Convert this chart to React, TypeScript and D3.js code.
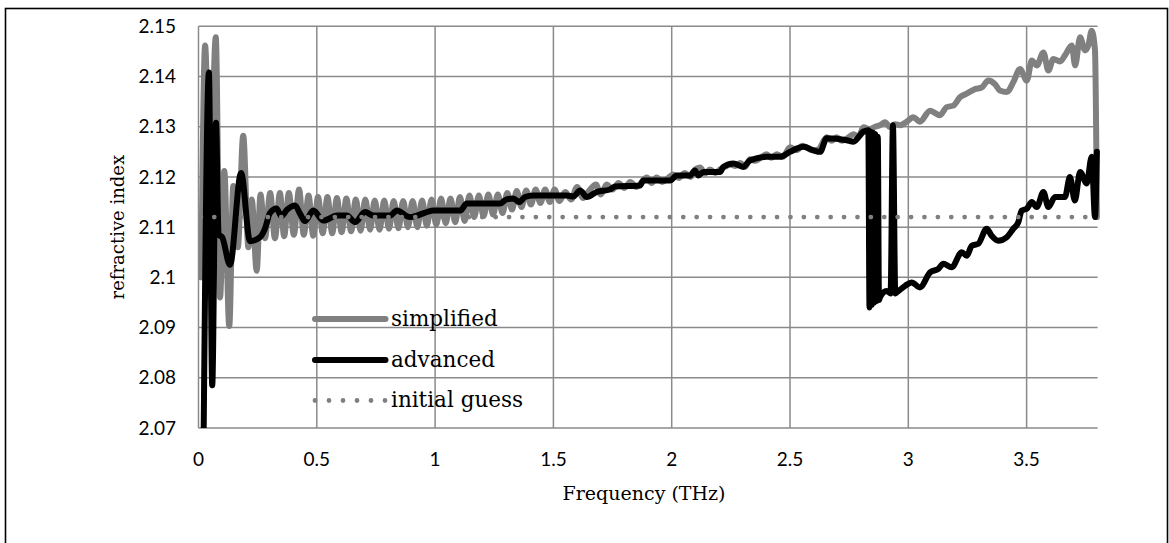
import React from "react";
import * as d3 from "d3";

const yTicks = [2.07, 2.08, 2.09, 2.1, 2.11, 2.12, 2.13, 2.14, 2.15];
const yTickLabels = ["2.07", "2.08", "2.09", "2.1", "2.11", "2.12", "2.13", "2.14", "2.15"];
const xTicks = [0, 0.5, 1, 1.5, 2, 2.5, 3, 3.5];
const xTickLabels = ["0", "0.5", "1", "1.5", "2", "2.5", "3", "3.5"];

const simplifiedFreq = [
  0.012, 0.028, 0.048, 0.073, 0.091, 0.109, 0.13, 0.147, 0.166, 0.189, 0.211, 0.225, 0.246, 0.262, 0.281, 0.303,
  0.323, 0.344, 0.362, 0.382, 0.403, 0.425, 0.445, 0.465, 0.485, 0.505, 0.525, 0.545, 0.565, 0.585, 0.605, 0.625,
  0.645, 0.665, 0.685, 0.705, 0.725, 0.745, 0.765, 0.785, 0.805, 0.825, 0.845, 0.865, 0.885, 0.905, 0.925, 0.945,
  0.965, 0.985, 1.005, 1.025, 1.045, 1.065, 1.085, 1.105, 1.125, 1.145, 1.165, 1.185, 1.205, 1.225, 1.245, 1.265,
  1.285, 1.305, 1.325, 1.345, 1.365, 1.385, 1.405, 1.425, 1.445, 1.465, 1.485, 1.505, 1.525, 1.55, 1.575, 1.6,
  1.625, 1.65, 1.68, 1.7, 1.725, 1.75, 1.775, 1.8, 1.825, 1.85, 1.895, 1.915, 1.936, 1.96, 1.985, 2.007,
  2.03, 2.055, 2.08, 2.1, 2.12, 2.14, 2.162, 2.185, 2.205, 2.225, 2.246, 2.27, 2.29, 2.31, 2.331, 2.355,
  2.38, 2.401, 2.42, 2.444, 2.47, 2.5, 2.53, 2.55, 2.57, 2.595, 2.62, 2.655, 2.675, 2.697, 2.72, 2.745,
  2.768, 2.79, 2.81, 2.835, 2.86, 2.88, 2.902, 2.923, 2.944, 2.965, 2.993, 3.021, 3.049, 3.092, 3.134, 3.162,
  3.19, 3.219, 3.247, 3.282, 3.31, 3.338, 3.366, 3.387, 3.416, 3.444, 3.472, 3.501, 3.522, 3.543, 3.571, 3.592,
  3.613, 3.641, 3.662, 3.691, 3.705, 3.726, 3.747, 3.761, 3.775, 3.789, 3.797,
];
const simplifiedN = [
  2.1, 2.1462, 2.115, 2.1478, 2.096, 2.1212, 2.0903, 2.1182, 2.106, 2.1282, 2.106, 2.1155, 2.1013, 2.1165, 2.1078, 2.1168,
  2.1078, 2.1168, 2.1082, 2.1168, 2.1085, 2.1175, 2.1085, 2.1163, 2.1083, 2.116, 2.1088, 2.116, 2.1088, 2.1158, 2.109, 2.1157,
  2.1092, 2.1155, 2.1093, 2.1155, 2.1095, 2.1153, 2.1095, 2.1153, 2.1097, 2.1152, 2.1098, 2.1152, 2.11, 2.1152, 2.11, 2.1153,
  2.1103, 2.1155, 2.1105, 2.1157, 2.1108, 2.1157, 2.111, 2.116, 2.1112, 2.1163, 2.112, 2.1163, 2.1122, 2.1165, 2.1125, 2.1165,
  2.1128, 2.1168, 2.1135, 2.1172, 2.114, 2.1173, 2.1145, 2.1175, 2.1148, 2.1175, 2.115, 2.1175, 2.1152, 2.117, 2.1155, 2.118,
  2.1158, 2.1172, 2.1185, 2.1165, 2.1185, 2.1175, 2.1188, 2.1178, 2.119, 2.118, 2.1199, 2.1188, 2.1199, 2.119, 2.1198, 2.1205,
  2.1198, 2.1208, 2.12, 2.1215, 2.1219, 2.1207, 2.1215, 2.1208, 2.1215, 2.122, 2.1225, 2.1222, 2.1228, 2.122, 2.1235, 2.1232,
  2.124, 2.1245, 2.1238, 2.1245, 2.124, 2.1259, 2.1253, 2.1262, 2.1259, 2.1253, 2.1255, 2.1279, 2.1272, 2.1279, 2.1272, 2.1278,
  2.1285, 2.128, 2.1299, 2.1295, 2.13, 2.1303, 2.1309, 2.1299, 2.1305, 2.1303, 2.131, 2.1319, 2.131, 2.1332, 2.1323, 2.1339,
  2.1342, 2.1359, 2.1366, 2.1375, 2.1378, 2.1392, 2.1385, 2.1372, 2.1369, 2.1389, 2.1415, 2.1392, 2.1432, 2.1422, 2.1448, 2.1412,
  2.1435, 2.143, 2.1442, 2.1462, 2.1422, 2.1478, 2.1452, 2.1462, 2.1491, 2.1452, 2.112,
];

const advancedFreq = [
  0.02, 0.044, 0.058, 0.074, 0.085, 0.1, 0.133, 0.18, 0.218, 0.26, 0.281, 0.302, 0.33, 0.35, 0.375, 0.408,
  0.429, 0.45, 0.485, 0.528, 0.585, 0.627, 0.662, 0.704, 0.74, 0.81, 0.838, 0.894, 0.922, 0.965, 0.993, 1.106,
  1.134, 1.275, 1.3, 1.331, 1.355, 1.38, 1.416, 1.557, 1.584, 1.613, 1.641, 1.683, 1.739, 1.76, 1.866, 1.88,
  1.993, 2.021, 2.078, 2.098, 2.113, 2.134, 2.204, 2.218, 2.261, 2.302, 2.331, 2.401, 2.458, 2.5, 2.557, 2.599,
  2.627, 2.655, 2.74, 2.768, 2.81, 2.831, 2.836, 2.841, 2.846, 2.851, 2.856, 2.861, 2.866, 2.871, 2.876, 2.88,
  2.908, 2.925, 2.935, 2.945, 2.951, 2.986, 3.014, 3.049, 3.092, 3.127, 3.148, 3.183, 3.226, 3.247, 3.268, 3.296,
  3.331, 3.352, 3.38, 3.416, 3.444, 3.465, 3.479, 3.501, 3.522, 3.543, 3.571, 3.592, 3.62, 3.662, 3.683, 3.704,
  3.726, 3.754, 3.775, 3.789, 3.797,
];
const advancedN = [
  2.06, 2.1408, 2.0785, 2.1308, 2.1085, 2.108, 2.1025, 2.1208, 2.1072, 2.108, 2.1097, 2.1128, 2.1137, 2.1122, 2.1135, 2.1143,
  2.1127, 2.1112, 2.1133, 2.1113, 2.1123, 2.1123, 2.111, 2.113, 2.1123, 2.1123, 2.1133, 2.112, 2.1123, 2.113, 2.1133, 2.1133,
  2.1147, 2.1147, 2.1155, 2.1157, 2.115, 2.116, 2.1163, 2.1163, 2.1161, 2.1173, 2.116, 2.117, 2.1175, 2.1181, 2.1183, 2.1193,
  2.1193, 2.1203, 2.1203, 2.1213, 2.1203, 2.121, 2.121, 2.122, 2.1227, 2.122, 2.1233, 2.124, 2.124, 2.125, 2.126, 2.1253,
  2.125, 2.1277, 2.1273, 2.127, 2.129, 2.1293, 2.094, 2.129, 2.0945, 2.1288, 2.095, 2.1285, 2.0953, 2.128, 2.0955, 2.096,
  2.0973, 2.0968, 2.1303, 2.0968, 2.097, 2.0983, 2.099, 2.098, 2.101, 2.1017, 2.1027, 2.102, 2.105, 2.1043, 2.1063, 2.1067,
  2.1097, 2.1083, 2.1073, 2.108, 2.1097, 2.111, 2.1133, 2.1137, 2.115, 2.114, 2.117, 2.114, 2.116, 2.116, 2.12, 2.1153,
  2.121, 2.1187, 2.124, 2.112, 2.125,
];

const guessFreq = [0.01, 3.797];
const guessN = [2.112, 2.112];

const seriesNames = ["simplified", "advanced", "initial guess"];

export default function App() {
  const W = 1169;
  const H = 543;
  const plot = { left: 198.5, right: 1097.6, top: 26.3, bottom: 428 };
  const x = d3.scaleLinear().domain([0, 3.8]).range([plot.left, plot.right]);
  const y = d3.scaleLinear().domain([2.07, 2.15]).range([plot.bottom, plot.top]);

  const line = d3
    .line<[number, number]>()
    .x((d) => x(d[0]))
    .y((d) => y(d[1]))
    .curve(d3.curveMonotoneX);
  const straight = d3
    .line<[number, number]>()
    .x((d) => x(d[0]))
    .y((d) => y(d[1]));

  const simp = simplifiedFreq.map((f, i) => [f, simplifiedN[i]] as [number, number]);
  const adv = advancedFreq.map((f, i) => [f, advancedN[i]] as [number, number]);
  const guess = guessFreq.map((f, i) => [f, guessN[i]] as [number, number]);

  const grid = "#8a8a8a";
  const grayLine = "#808080";
  const serif = "'DejaVu Serif', 'Liberation Serif', serif";
  const sans = "Lato, 'Open Sans', sans-serif";

  const legX1 = 315;
  const legX2 = 385.5;
  const legY = [319, 360, 400.5];

  return (
    <svg
      width={W}
      height={H}
      style={{ position: "absolute", left: 0, top: 0, background: "#fff" }}
    >
      <rect x={0} y={0} width={W} height={H} fill="#fff" />
      <rect x={5.5} y={8.5} width={1162} height={600} fill="none" stroke="#000" strokeWidth={1.6} />
      <defs>
        <clipPath id="plotclip">
          <rect x={plot.left} y={plot.top - 4} width={plot.right - plot.left + 4} height={plot.bottom - plot.top + 4} />
        </clipPath>
      </defs>
      {yTicks.map((t) => (
        <line key={"hy" + t} x1={plot.left} x2={plot.right} y1={y(t)} y2={y(t)} stroke={grid} strokeWidth={1.5} />
      ))}
      {xTicks.map((t) => (
        <line key={"vx" + t} x1={x(t)} x2={x(t)} y1={plot.top} y2={plot.bottom} stroke={grid} strokeWidth={1.5} />
      ))}
      {yTicks.map((t, i) => (
        <text key={"yl" + t} x={176} y={y(t)} dy="0.35em" textAnchor="end" fontFamily={sans} fontSize={19} fill="#000">
          {yTickLabels[i]}
        </text>
      ))}
      {xTicks.map((t, i) => (
        <text key={"xl" + t} x={x(t)} y={466} textAnchor="middle" fontFamily={sans} fontSize={19} fill="#000">
          {xTickLabels[i]}
        </text>
      ))}
      <text x={(plot.left + plot.right) / 2 - 4} y={500} textAnchor="middle" fontFamily={serif} fontSize={19} fill="#000">
        Frequency (THz)
      </text>
      <text
        transform={`translate(124, ${(plot.top + plot.bottom) / 2}) rotate(-90)`}
        textAnchor="middle"
        fontFamily={serif}
        fontSize={18}
        fill="#000"
      >
        refractive index
      </text>
      <g clipPath="url(#plotclip)">
        <path d={line(simp) || ""} fill="none" stroke={grayLine} strokeWidth={6} strokeLinejoin="round" strokeLinecap="round" />
        <path d={line(adv) || ""} fill="none" stroke="#000" strokeWidth={6} strokeLinejoin="round" strokeLinecap="round" />
        <path d={straight(guess) || ""} fill="none" stroke={grayLine} strokeWidth={4.8} strokeDasharray="0 13.4" strokeLinecap="round" />
      </g>
      <line x1={legX1} x2={legX2} y1={legY[0]} y2={legY[0]} stroke={grayLine} strokeWidth={6} strokeLinecap="round" />
      <line x1={legX1} x2={legX2} y1={legY[1]} y2={legY[1]} stroke="#000" strokeWidth={6} strokeLinecap="round" />
      <line x1={legX1} x2={legX2} y1={legY[2]} y2={legY[2]} stroke={grayLine} strokeWidth={4.8} strokeDasharray="0 14" strokeLinecap="round" />
      {seriesNames.map((s, i) => (
        <text key={s} x={391} y={legY[i]} dy="0.32em" fontFamily={serif} fontSize={21.5} fill="#000">
          {s}
        </text>
      ))}
    </svg>
  );
}
